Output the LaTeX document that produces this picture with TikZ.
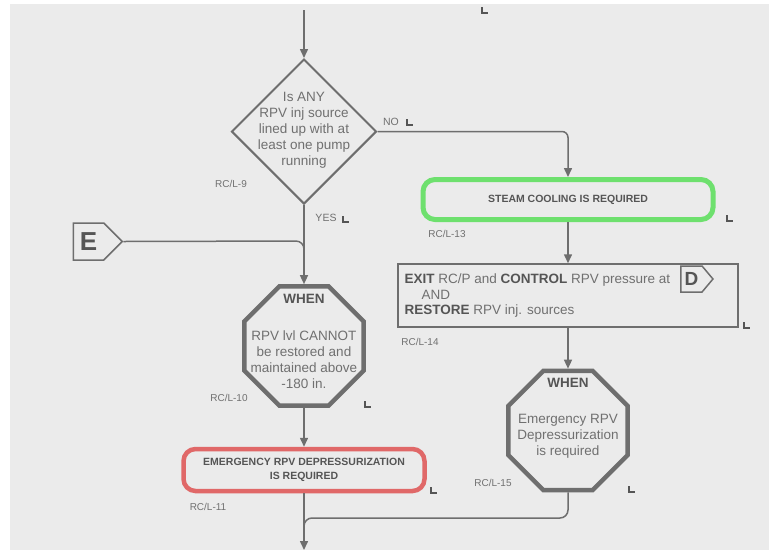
\documentclass[tikz,border=0pt]{standalone}
\usepackage{fontspec}
\setmainfont{Liberation Sans}
\usetikzlibrary{shapes.geometric,shapes.symbols,arrows.meta}
\definecolor{bg}{HTML}{EBEBEB}
\definecolor{ln}{HTML}{6E6E6E}
\definecolor{tx}{HTML}{707070}
\definecolor{txd}{HTML}{555555}
\definecolor{grn}{HTML}{6EE06E}
\definecolor{rd}{HTML}{E06868}
\newcommand\lmk[1]{\draw[lmark] (#1) ++(0,-6) -- ++(0,6) -- ++(6,0);}
\begin{document}
\begin{tikzpicture}[x=1pt,y=-1pt,
  line/.style={draw=ln, line width=1.5pt},
  arr/.style={line, -{Triangle[length=9pt,width=8pt]}},
  octa/.style={regular polygon, regular polygon sides=8, minimum size=129pt, inner sep=0pt, draw=ln, line width=4.5pt},
  rcl/.style={font=\fontsize{10}{12}\selectfont, text=tx},
  body/.style={font=\fontsize{13.5}{16}\selectfont, text=tx, align=center},
  when/.style={font=\bfseries\fontsize{13.5}{16}\selectfont, text=txd},
  caps/.style={font=\bfseries\fontsize{10.5}{14}\selectfont, text=txd, align=center},
  small/.style={font=\fontsize{10.5}{12}\selectfont, text=tx},
  lmark/.style={draw=txd, line width=2pt},
  sig/.style={signal, signal to=east, draw=ln, line width=1.5pt, inner sep=0pt, text=txd}
]
\fill[white] (0,0) rectangle (769,550);
\fill[bg] (10,4) rectangle (769,550);
\useasboundingbox (0,0) rectangle (769,550);

% decision
\node[diamond, draw=ln, line width=2pt, minimum width=145pt, minimum height=145pt, inner sep=0pt] (dia) at (304,131.5) {};
\node[body] (diatx) at (304,130) {Is ANY\\RPV inj source\\lined up with at\\least one pump\\running};
\node[rcl] (l9) at (231,184) {RC/L-9};
\node[small] (no) at (391,122) {NO};
\lmk{407,125}
\node[small] (yes) at (326,218) {YES};
\lmk{343,222}

% entry E
\node[sig, signal pointer angle=90, minimum width=49pt, minimum height=37pt, font=\bfseries\fontsize{26}{26}\selectfont] (esig) at (88.5,241.5) {E};

% left column
\node[octa] (o1) at (304,346) {};
\node[when] (w1) at (304,299) {WHEN};
\node[body] (o1tx) at (304,360) {RPV lvl CANNOT\\be restored and\\maintained above\\-180 in.};
\node[rcl] (l10) at (229,398) {RC/L-10};
\lmk{365,407}

\node[draw=rd, line width=4.5pt, rounded corners=12pt, minimum width=241pt, minimum height=42pt, caps] (red) at (304,470) {EMERGENCY RPV DEPRESSURIZATION\\IS REQUIRED};
\node[rcl] (l11) at (208,507) {RC/L-11};
\lmk{431,493}

% right column
\node[draw=grn, line width=5pt, rounded corners=12pt, minimum width=290pt, minimum height=40pt, caps] (grn) at (568,199.5) {STEAM COOLING IS REQUIRED};
\node[rcl] (l13) at (447,234) {RC/L-13};
\lmk{727,221}

\node[draw=ln, line width=1.5pt, minimum width=340pt, minimum height=63pt] (dbx) at (568,295.5) {};
\node[font=\fontsize{13.5}{15.5}\selectfont, text=tx, align=left, anchor=west] (dtx) at (401,296) {\textbf{\color{txd}EXIT} RC/P and \textbf{\color{txd}CONTROL} RPV pressure at\\\hspace*{17pt}AND\\\textbf{\color{txd}RESTORE} RPV inj. sources};
\node[sig, signal pointer angle=100, minimum width=32pt, minimum height=26pt, font=\bfseries\fontsize{19}{19}\selectfont] (dsig) at (691.5,279) {D};
\node[rcl] (l14) at (420,342) {RC/L-14};
\lmk{744,328}

\node[octa] (o2) at (568,430.5) {};
\node[when] (w2) at (568,383) {WHEN};
\node[body] (o2tx) at (568,436) {Emergency RPV\\Depressurization\\is required};
\node[rcl] (l15) at (493,483) {RC/L-15};
\lmk{629,492}

\lmk{482,13}

% connectors
\coordinate (top) at (304,10);
\coordinate (ej) at (304,241);
\coordinate (ej2) at (304,272);
\coordinate (jn) at (304,518);
\coordinate (jn2) at (304,535);
\coordinate (bot) at (304,550);
\draw[arr] (top) -- (dia.north);
\draw[arr, rounded corners=6pt] (dia.east) -| (grn.north);
\draw[arr] (dia.south) -- (o1.north);
\draw[line, rounded corners=8pt] (esig.east) -- (ej) -- (ej2);
\draw[arr] (o1.south) -- (red.north);
\draw[arr] (red.south) -- (bot);
\draw[line, rounded corners=8pt] (o2.south) |- (jn) -- (jn2);
\draw[arr] (grn.south) -- (dbx.north);
\draw[arr] (dbx.south) -- (o2.north);
\end{tikzpicture}
\end{document}
